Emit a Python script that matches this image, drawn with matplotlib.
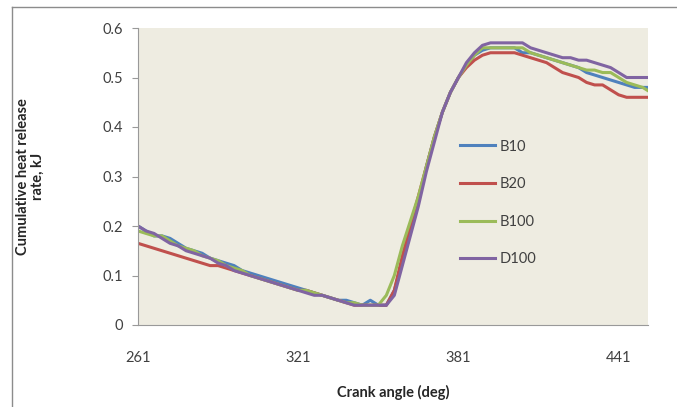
import matplotlib.pyplot as plt
import numpy as np
from matplotlib.lines import Line2D

# data (kJ vs crank angle, every 3 deg)
angle = np.arange(261, 454, 3)

b10 = [.20, .19, .18, .18, .175, .165, .155, .15, .145, .135, .13, .125, .12, .11, .105, .10,
       .095, .09, .085, .08, .075, .07, .065, .06, .055, .05, .05, .045, .04, .05, .04, .04,
       .07, .13, .19, .25, .32, .38, .43, .47, .50, .525, .545, .555, .56, .56, .56, .56,
       .55, .55, .545, .54, .535, .53, .525, .52, .51, .505, .50, .495, .49, .485, .48, .48, .48]
b20 = [.165, .16, .155, .15, .145, .14, .135, .13, .125, .12, .12, .115, .11, .105, .10, .095,
       .09, .085, .08, .075, .07, .07, .065, .06, .055, .05, .045, .04, .04, .04, .04, .04,
       .07, .14, .20, .26, .32, .38, .43, .47, .50, .52, .535, .545, .55, .55, .55, .55,
       .545, .54, .535, .53, .52, .51, .505, .50, .49, .485, .485, .475, .465, .46, .46, .46, .46]
b100 = [.19, .185, .18, .18, .17, .16, .155, .15, .14, .135, .13, .12, .115, .11, .10, .095,
        .09, .085, .08, .075, .07, .07, .065, .06, .055, .05, .045, .045, .04, .04, .04, .06,
        .10, .16, .21, .26, .32, .38, .43, .47, .50, .525, .545, .56, .56, .56, .56, .56,
        .56, .55, .545, .54, .535, .53, .525, .52, .515, .515, .51, .51, .50, .49, .485, .48, .47]
d100 = [.20, .19, .185, .175, .165, .16, .15, .145, .14, .135, .125, .12, .11, .105, .10, .095,
        .09, .085, .08, .075, .07, .065, .06, .06, .055, .05, .045, .04, .04, .04, .04, .04,
        .06, .12, .18, .24, .31, .37, .43, .47, .50, .53, .55, .565, .57, .57, .57, .57,
        .57, .56, .555, .55, .545, .54, .54, .535, .535, .53, .525, .52, .51, .50, .50, .50, .50]

series = [("B10", b10, "#4F81BD"), ("B20", b20, "#C0504D"),
          ("B100", b100, "#9BBB59"), ("D100", d100, "#8064A2")]

xticks = [261, 321, 381, 441]
yticks = [0, 0.1, 0.2, 0.3, 0.4, 0.5, 0.6]
ylabels = ["0", "0.1", "0.2", "0.3", "0.4", "0.5", "0.6"]

plt.rcParams['font.family'] = ['Lato', 'DejaVu Sans']

W, H = 677, 407
fig = plt.figure(figsize=(W / 100, H / 100), dpi=100)
ax = fig.add_axes([138 / W, 1 - 325 / H, (648 - 138) / W, (325 - 28) / H])
ax.set_facecolor("#EEECE1")

for name, vals, col in series:
    ax.plot(angle, vals, color=col, lw=2.2, label=name, solid_joinstyle='round')

ax.set_xlim(261, 452)
ax.set_ylim(0, 0.6)
ax.set_xticks(xticks)
ax.set_yticks(yticks)
ax.set_yticklabels(ylabels)
ax.tick_params(axis='x', length=0, pad=19, labelsize=10.5, labelcolor="#404040")
ax.tick_params(axis='y', length=4, color="#999999", pad=7, labelsize=10.5, labelcolor="#404040")

for s in ["top", "right"]:
    ax.spines[s].set_visible(False)
ax.spines["left"].set_color("#999999")
ax.spines["bottom"].set_color("#999999")

# xlabel anchor is the top of the text
ax.set_xlabel("Crank angle (deg)", fontsize=10.5, fontweight='bold', color="#262626")
ax.xaxis.set_label_coords(0.5, -(385 - 325) / (325 - 28))
ax.set_ylabel("Cumulative heat release\nrate, kJ", fontsize=10.5, fontweight='bold',
              color="#262626", linespacing=1.1)
ax.yaxis.set_label_coords(-(138 - 45) / (648 - 138), 0.5)

leg = ax.legend(loc='center left', bbox_to_anchor=(460 / W, 1 - 203 / H),
                bbox_transform=fig.transFigure, frameon=False, fontsize=10.5,
                handlelength=2.4, handletextpad=0.3, labelspacing=1.62,
                borderpad=0, borderaxespad=0)
for t in leg.get_texts():
    t.set_color("#404040")

# chart border (only top and left edges fall inside the image)
fig.add_artist(Line2D([12 / W, 1], [1 - 7 / H, 1 - 7 / H], transform=fig.transFigure,
                      color="#8C8C8C", lw=1))
fig.add_artist(Line2D([12 / W, 12 / W], [0, 1 - 7 / H], transform=fig.transFigure,
                      color="#8C8C8C", lw=1))

fig.savefig("out.png", dpi=100)
